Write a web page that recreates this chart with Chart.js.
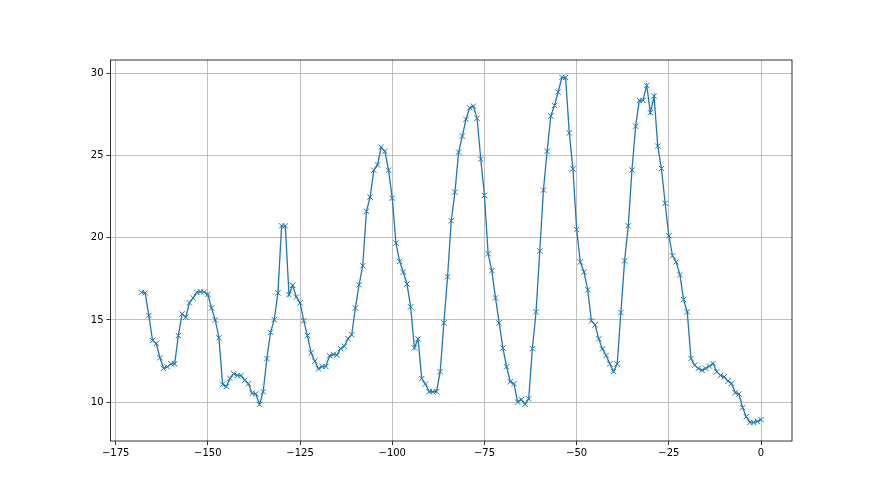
<!DOCTYPE html>
<html>
<head>
<meta charset="utf-8">
<script src="https://cdn.jsdelivr.net/npm/chart.js@4/dist/chart.umd.min.js"></script>
<style>
html,body{margin:0;padding:0;background:#fff;}
#wrap{width:880px;height:495px;position:relative;}
</style>
</head>
<body>
<div id="wrap"><canvas id="c" width="880" height="495"></canvas></div>
<script>
const hours = [-168,-167,-166,-165,-164,-163,-162,-161,-160,-159,-158,-157,-156,-155,-154,-153,-152,-151,-150,-149,
-148,-147,-146,-145,-144,-143,-142,-141,-140,-139,-138,-137,-136,-135,-134,-133,-132,-131,-130,-129,
-128,-127,-126,-125,-124,-123,-122,-121,-120,-119,-118,-117,-116,-115,-114,-113,-112,-111,-110,-109,
-108,-107,-106,-105,-104,-103,-102,-101,-100,-99,-98,-97,-96,-95,-94,-93,-92,-91,-90,-89,
-88,-87,-86,-85,-84,-83,-82,-81,-80,-79,-78,-77,-76,-75,-74,-73,-72,-71,-70,-69,
-68,-67,-66,-65,-64,-63,-62,-61,-60,-59,-58,-57,-56,-55,-54,-53,-52,-51,-50,-49,
-48,-47,-46,-45,-44,-43,-42,-41,-40,-39,-38,-37,-36,-35,-34,-33,-32,-31,-30,-29,
-28,-27,-26,-25,-24,-23,-22,-21,-20,-19,-18,-17,-16,-15,-14,-13,-12,-11,-10,-9,
-8,-7,-6,-5,-4,-3,-2,-1,0];

const values = [16.68,16.65,15.27,13.75,13.57,12.70,12.05,12.15,12.33,12.33,14.05,15.37,15.16,16.04,16.34,16.68,16.72,16.70,16.56,15.73,
15.00,13.91,11.08,10.94,11.44,11.73,11.62,11.62,11.32,11.12,10.53,10.51,9.86,10.63,12.65,14.25,15.02,16.65,20.73,20.73,
16.54,17.11,16.40,16.04,14.96,14.05,13.00,12.49,12.03,12.17,12.17,12.82,12.90,12.86,13.26,13.40,13.86,14.10,15.73,17.14,
18.30,21.62,22.48,24.12,24.44,25.52,25.27,24.12,22.42,19.68,18.57,17.92,17.19,15.80,13.30,13.85,11.43,11.10,10.63,10.63,
10.63,11.85,14.82,17.63,21.04,22.78,25.22,26.20,27.22,27.92,28.02,27.28,24.80,22.58,19.03,18.00,16.34,14.82,13.30,12.15,
11.24,11.12,10.00,10.16,9.87,10.20,13.25,15.50,19.20,22.91,25.27,27.42,28.06,28.88,29.77,29.77,26.39,24.20,20.51,18.53,
17.92,16.83,14.95,14.70,13.85,13.24,12.84,12.33,11.85,12.33,15.45,18.60,20.73,24.13,26.80,28.37,28.37,29.28,27.62,28.63,
25.59,24.22,22.11,20.13,18.91,18.53,17.76,16.24,15.49,12.65,12.25,12.05,11.93,12.05,12.19,12.35,11.85,11.62,11.54,11.28,
11.14,10.57,10.49,9.66,9.11,8.76,8.76,8.82,8.93];

const xTicks = [-175,-150,-125,-100,-75,-50,-25,0];
const yTicks = [10,15,20,25,30];

const fmt = v => (v < 0 ? '\u2212' + Math.abs(v) : String(v));

const frame = {
  id: 'frame',
  afterDraw(chart) {
    const a = chart.chartArea, ctx = chart.ctx;
    ctx.save();
    ctx.strokeStyle = '#000';
    ctx.lineWidth = 0.8;
    ctx.strokeRect(a.left, a.top, a.right - a.left, a.bottom - a.top);
    ctx.restore();
  }
};

new Chart(document.getElementById('c'), {
  type: 'line',
  data: {
    datasets: [{
      data: hours.map((h, i) => ({x: h, y: values[i]})),
      borderColor: '#1f77b4',
      borderWidth: 1.3,
      tension: 0,
      pointStyle: 'crossRot',
      pointRadius: 3.8,
      pointBorderWidth: 1,
      pointBorderColor: '#1f77b4',
      pointBackgroundColor: '#1f77b4',
      pointHoverRadius: 3.8,
      fill: false
    }]
  },
  options: {
    responsive: false,
    animation: false,
    events: [],
    layout: {padding: {left: 0, right: 88, top: 60, bottom: 0}},
    plugins: {legend: {display: false}, tooltip: {enabled: false}},
    scales: {
      x: {
        type: 'linear',
        min: -176.4,
        max: 8.4,
        afterBuildTicks: s => { s.ticks = xTicks.map(v => ({value: v})); },
        afterFit: s => { s.height = 54; },
        grid: {color: '#b0b0b0', lineWidth: 0.8, tickColor: '#000', tickLength: 4, drawOnChartArea: true},
        border: {display: false},
        ticks: {color: '#000', font: {family: 'DejaVu Sans', size: 10}, padding: 2, maxRotation: 0, autoSkip: false, callback: v => fmt(v)}
      },
      y: {
        type: 'linear',
        min: 7.63,
        max: 30.83,
        afterBuildTicks: s => { s.ticks = yTicks.map(v => ({value: v})); },
        afterFit: s => { s.width = 110.5; },
        grid: {color: '#b0b0b0', lineWidth: 0.8, tickColor: '#000', tickLength: 4},
        border: {display: false},
        ticks: {color: '#000', font: {family: 'DejaVu Sans', size: 10}, padding: 3, autoSkip: false, callback: v => fmt(v)}
      }
    }
  },
  plugins: [frame]
});
</script>
</body>
</html>
